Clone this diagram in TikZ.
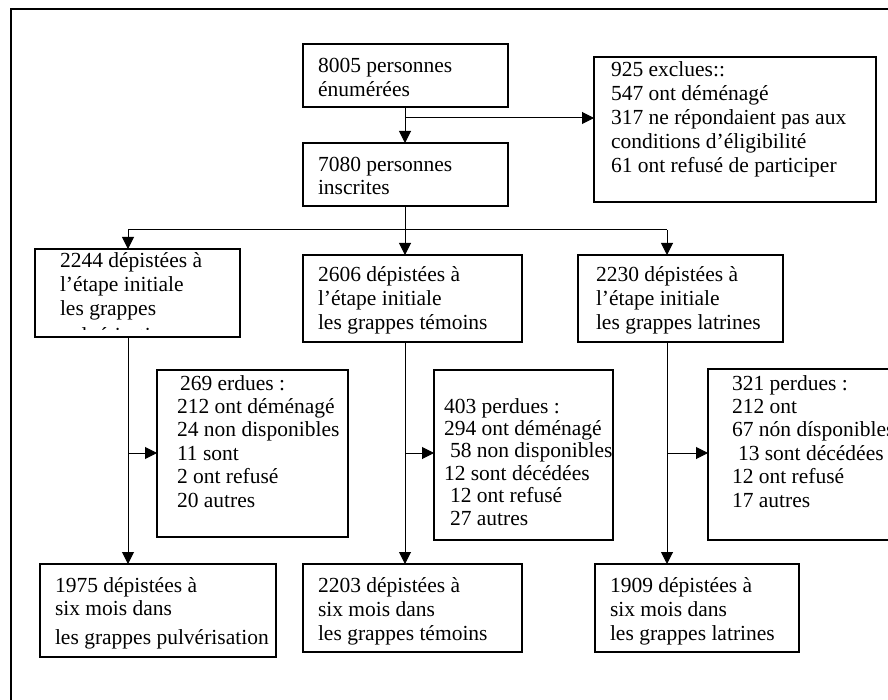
\documentclass[tikz,border=0pt]{standalone}
\usepackage{fontspec}
\setmainfont{Liberation Serif}
\usetikzlibrary{arrows.meta}
\newcommand\lns[2]{\vtop{\baselineskip=#1\lineskiplimit=-20pt\halign{##\hfil\cr#2\crcr}}}
\tikzset{
  box/.style={draw, line width=1.1pt, inner sep=0pt, outer sep=0pt, anchor=north west},
  txt/.style={inner sep=0pt, outer sep=0pt, anchor=base west, font=\fontsize{21.5}{24}\selectfont},
  arr/.style={-{Triangle[length=12pt,width=12pt]}, line width=1pt},
  ln/.style={line width=1pt}
}
\begin{document}
\begin{tikzpicture}[x=1pt,y=-1pt]
\useasboundingbox (0,0) rectangle (888,700);
\clip (0,0) rectangle (888,700);
% outer frame
\draw[line width=2.8pt] (11,9) rectangle (905,715);
% boxes
\node[box, minimum width=205pt, minimum height=63pt] (A) at (303,44) {};
\node[box, minimum width=205pt, minimum height=63pt] (B) at (303,143) {};
\node[box, minimum width=282pt, minimum height=145pt] (X) at (594,57) {};
\node[box, minimum width=205pt, minimum height=88pt] (C1) at (35,249) {};
\node[box, minimum width=219pt, minimum height=87pt] (C2) at (303,255) {};
\node[box, minimum width=205pt, minimum height=87pt] (C3) at (578,255) {};
\node[box, minimum width=191pt, minimum height=167pt] (L1) at (157,370) {};
\node[box, minimum width=179pt, minimum height=170pt] (L2) at (434,370) {};
\node[box, minimum width=192pt, minimum height=171pt] (L3) at (708,369) {};
\node[box, minimum width=236pt, minimum height=93pt] (D1) at (40,564) {};
\node[box, minimum width=219pt, minimum height=88pt] (D2) at (303,564) {};
\node[box, minimum width=204pt, minimum height=88pt] (D3) at (595,564) {};
% texts
\node[txt] (At) at (318,73) {\lns{24pt}{8005 personnes\cr énumérées}};
\node[txt] (Bt) at (318,172) {\lns{23pt}{7080 personnes\cr inscrites}};
\node[txt] (Xt) at (611,77) {\lns{24pt}{925 exclues::\cr 547 ont déménagé\cr 317 ne répondaient pas aux\cr conditions d’éligibilité\cr 61 ont refusé de participer}};
\node[txt] (C1t) at (60,268) {\lns{24pt}{2244 dépistées à\cr l’étape initiale\cr les grappes}};
\begin{scope}
\clip (36,250) rectangle (239,329);
\node[txt] (C1u) at (60,342) {pulvérisation};
\end{scope}
\node[txt] (C2t) at (318,282) {\lns{24pt}{2606 dépistées à\cr l’étape initiale\cr les grappes témoins}};
\node[txt] (C3t) at (596,282) {\lns{24pt}{2230 dépistées à\cr l’étape initiale\cr les grappes latrines}};
\node[txt] (L1t) at (177,390) {\lns{23.4pt}{\kern3pt 269 erdues :\cr 212 ont déménagé\cr 24 non disponibles\cr 11 sont\cr 2 ont refusé\cr 20 autres}};
\node[txt] (L2t) at (444,413) {\lns{22.4pt}{403 perdues :\cr 294 ont déménagé\cr \kern6pt 58 non disponibles\cr 12 sont décédées\cr \kern6pt 12 ont refusé\cr \kern6pt 27 autres}};
\node[txt] (L3t) at (732,390) {\lns{23.4pt}{321 perdues :\cr 212 ont\cr 67 nón dísponibles\cr \kern6pt 13 sont décédées\cr 12 ont refusé\cr 17 autres}};
\node[txt] (D1t) at (55,592) {\lns{23pt}{1975 dépistées à\cr six mois dans\cr\noalign{\kern6pt} les grappes pulvérisation}};
\node[txt] (D2t) at (318,592) {\lns{24pt}{2203 dépistées à\cr six mois dans\cr les grappes témoins}};
\node[txt] (D3t) at (610,592) {\lns{24pt}{1909 dépistées à\cr six mois dans\cr les grappes latrines}};
% junction points
\coordinate (a1) at (405,118);
\coordinate (jL) at (128,230);
\coordinate (jM) at (405,230);
\coordinate (jR) at (667,230);
\coordinate (kL) at (128,453);
\coordinate (kM) at (405,453);
\coordinate (kR) at (667,453);
% connectors
\draw[arr] (A.south -| a1) -- (a1 |- B.north);
\draw[arr] (a1) -- (a1 -| X.west);
\draw[ln] (jM |- B.south) -- (jM);
\draw[ln] (jL) -- (jR);
\draw[arr] (jL) -- (jL |- C1.north);
\draw[arr] (jM) -- (jM |- C2.north);
\draw[arr] (jR) -- (jR |- C3.north);
\draw[arr] (jL |- C1.south) -- (jL |- D1.north);
\draw[arr] (jM |- C2.south) -- (jM |- D2.north);
\draw[arr] (jR |- C3.south) -- (jR |- D3.north);
\draw[arr] (kL) -- (kL -| L1.west);
\draw[arr] (kM) -- (kM -| L2.west);
\draw[arr] (kR) -- (kR -| L3.west);
\end{tikzpicture}
\end{document}
